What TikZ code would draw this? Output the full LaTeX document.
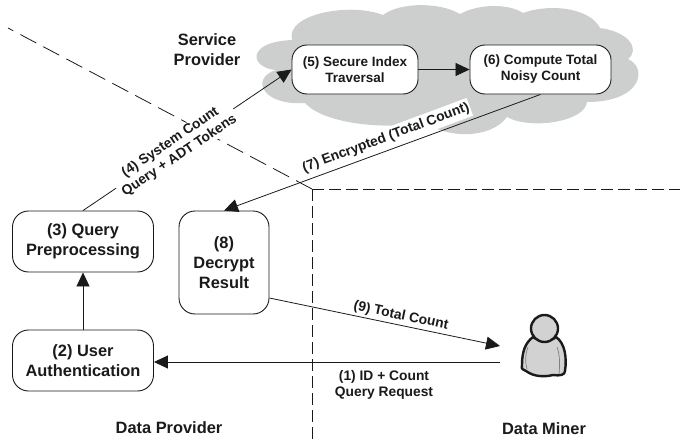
\documentclass[tikz,border=0pt]{standalone}
\usepackage{fontspec}
\setmainfont{Liberation Sans}
\usetikzlibrary{arrows.meta,calc}
\definecolor{ink}{HTML}{1A1A1A}
\definecolor{cloudgray}{HTML}{CDCFCF}
\definecolor{persongray}{HTML}{D2D2D2}
\tikzset{
  procbox/.style={draw=ink,line width=0.9pt,fill=white,rounded corners=16pt,align=center,inner sep=0pt,font=\bfseries\fontsize{16.4}{19.7}\selectfont,text=ink},
  smallbox/.style={procbox,rounded corners=15pt,font=\bfseries\fontsize{13.5}{16}\selectfont},
  flow/.style={draw=ink,line width=0.8pt,-{Triangle[length=14pt,width=13pt]}},
  boundary/.style={draw=ink,line width=0.8pt},
  flowlabel/.style={align=center,font=\bfseries\fontsize{13.8}{16}\selectfont,text=ink,inner sep=1pt},
  caption/.style={align=center,font=\bfseries\fontsize{16.4}{20}\selectfont,text=ink}
}
\begin{document}
\begin{tikzpicture}[x=1pt,y=-1pt]
\useasboundingbox (0,0) rectangle (680,444);
% cloud
\fill[cloudgray] (276,70) .. controls (250,68) and (245,42) .. (292,40)
  .. controls (285,14) and (350,2) .. (383,15)
  .. controls (400,2) and (440,2) .. (460,14)
  .. controls (480,3) and (510,4) .. (523,13)
  .. controls (550,3) and (590,8) .. (600,28)
  .. controls (630,32) and (640,50) .. (628,59)
  .. controls (648,68) and (642,102) .. (587,102)
  .. controls (585,122) and (530,130) .. (507,117)
  .. controls (490,140) and (445,138) .. (425,122)
  .. controls (390,130) and (325,125) .. (305,103)
  .. controls (262,106) and (250,78) .. (276,70) -- cycle;
% boundaries
\coordinate (corner) at (312,189);
\coordinate (diagstart) at (8,28);
\coordinate (hend) at (680,189);
\coordinate (vend) at (312,444);
\draw[boundary,dash pattern=on 18pt off 8pt] (corner) -- (diagstart);
\draw[boundary,dash pattern=on 12pt off 5pt] (corner) -- (hend);
\draw[boundary,dash pattern=on 12pt off 5pt] (corner) -- (vend);
% boxes
\node[smallbox,minimum width=126pt,minimum height=49pt] (n5) at (355,69.5) {(5) Secure Index\\Traversal};
\node[smallbox,minimum width=141pt,minimum height=49pt] (n6) at (540.5,69.5) {(6) Compute Total\\Noisy Count};
\node[procbox,minimum width=141pt,minimum height=61pt] (n3) at (83,241.5) {(3) Query\\Preprocessing};
\node[procbox,minimum width=141pt,minimum height=61pt] (n2) at (83,360.5) {(2) User\\Authentication};
\node[procbox,minimum width=90pt,minimum height=103pt] (n8) at (224,262.5) {(8)\\Decrypt\\Result};
% person
\coordinate (p9) at (500,346);
\coordinate (p1) at (500,362);
\draw[ink,line width=2.4pt,fill=persongray,line join=round] (533,337)
  .. controls (525,343) and (522,352) .. (522,365)
  .. controls (521,370) and (523,369) .. (526,371)
  .. controls (534,377) and (545,377) .. (553,375)
  .. controls (560,376) and (565,375) .. (565,371)
  .. controls (567,358) and (565,343) .. (556,337)
  .. controls (550,342) and (540,342) .. (533,337) -- cycle;
\draw[gray,line width=0.7pt] (528,347) .. controls (525,355) and (525,362) .. (527,369);
\draw[gray,line width=0.7pt] (557,347) .. controls (560,355) and (560,365) .. (559,374);
\node[circle,draw=ink,line width=2.4pt,fill=persongray,minimum size=27pt,inner sep=0pt] (head) at (544.5,328.5) {};
% connectors
\draw[flow] (n2.north) -- (n3.south);
\draw[flow] (n3.north) -- (n5.west);
\draw[flow] (n5.east) -- (n6.west);
\draw[flow] (n6.south) -- (n8.north);
\draw[flow] ([yshift=-35.5pt]n8.east) -- (p9);
\draw[flow] (p1) -- (n2.east |- p1);
% labels
\node[flowlabel,fill=white,rotate=34,inner xsep=3pt] (l4) at (175,149) {(4) System Count\\Query + ADT Tokens};
\node[flowlabel,fill=white,rotate=20.4,inner ysep=3pt] (l7) at (386,138) {(7) Encrypted (Total Count)};
\node[flowlabel,rotate=-11.7] (l9) at (401,316) {(9) Total Count};
\node[flowlabel] (l1) at (384,385) {(1) ID + Count\\Query Request};
\node[caption] (sp) at (207,49.5) {Service\\Provider};
\node[caption] (dp) at (169,428) {Data Provider};
\node[caption] (dm) at (544,429) {Data Miner};
\end{tikzpicture}
\end{document}
